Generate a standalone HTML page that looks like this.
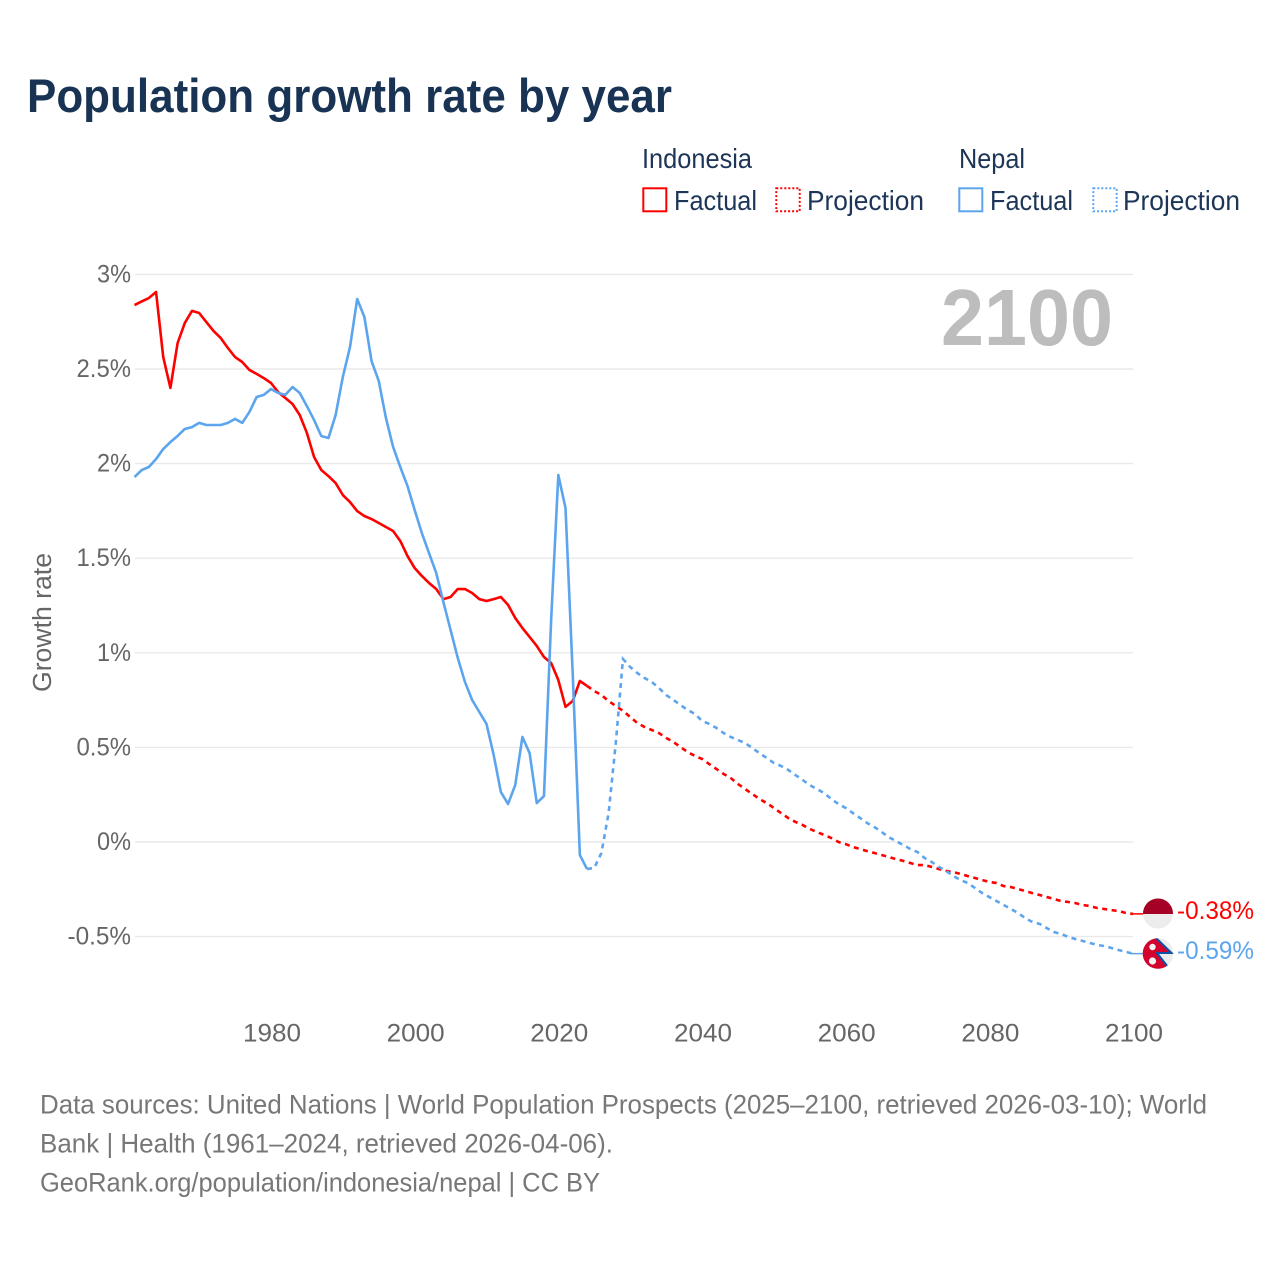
<!DOCTYPE html>
<html lang="en">
<head>
<meta charset="utf-8">
<title>Population growth rate by year</title>
<style>
html,body{margin:0;padding:0;background:#fff;}
svg{display:block;font-family:"Liberation Sans",sans-serif;}
</style>
</head>
<body>
<svg id="chart" xmlns="http://www.w3.org/2000/svg" width="1280" height="1280" viewBox="0 0 1280 1280">
  <rect x="0" y="0" width="1280" height="1280" fill="#ffffff"/>
  <text x="27" y="112" font-size="47" font-weight="700" fill="#183353" textLength="645" lengthAdjust="spacingAndGlyphs">Population growth rate by year</text>

  <g font-size="27.5" fill="#1d3557">
    <text x="642" y="168" textLength="110" lengthAdjust="spacingAndGlyphs">Indonesia</text>
    <text x="959" y="168" textLength="66" lengthAdjust="spacingAndGlyphs">Nepal</text>
    <rect x="643.3" y="188.3" width="23" height="23" fill="none" stroke="#ff0000" stroke-width="2"/>
    <text x="674" y="210" textLength="83" lengthAdjust="spacingAndGlyphs">Factual</text>
    <rect x="776.3" y="188.3" width="23.4" height="23" fill="none" stroke="#ff0000" stroke-width="2" stroke-dasharray="2 2"/>
    <text x="807" y="210" textLength="117" lengthAdjust="spacingAndGlyphs">Projection</text>
    <rect x="959.3" y="188.3" width="23" height="23" fill="none" stroke="#5ca5ee" stroke-width="2"/>
    <text x="990" y="210" textLength="83" lengthAdjust="spacingAndGlyphs">Factual</text>
    <rect x="1093.3" y="188.3" width="23.4" height="23" fill="none" stroke="#5ca5ee" stroke-width="2" stroke-dasharray="2 2"/>
    <text x="1123" y="210" textLength="117" lengthAdjust="spacingAndGlyphs">Projection</text>
  </g>

  <g id="grid"></g>
  <g id="y-labels" font-size="25" fill="#666666" text-anchor="end"></g>
  <g id="x-labels" font-size="25" fill="#666666" text-anchor="middle"></g>
  <text transform="translate(51,692) rotate(-90)" font-size="25.5" fill="#666666" textLength="139" lengthAdjust="spacingAndGlyphs">Growth rate</text>
  <text x="941" y="345" font-size="80" font-weight="700" fill="#bdbdbd" textLength="172" lengthAdjust="spacingAndGlyphs">2100</text>

  <g id="series"></g>

  <g>
    <clipPath id="clip-id"><circle cx="1158" cy="913.5" r="15"/></clipPath>
    <g clip-path="url(#clip-id)">
      <rect x="1143" y="898" width="30" height="16" fill="#a50026"/>
      <rect x="1143" y="914" width="30" height="16" fill="#ececec"/>
    </g>
  </g>
  <g>
    <clipPath id="clip-np"><circle cx="1158" cy="953.5" r="15.3"/></clipPath>
    <g clip-path="url(#clip-np)">
      <rect x="1142" y="938" width="32" height="32" fill="#ececec"/>
      <polygon points="1142,936 1155,936 1173,953.5 1157,953.5 1168,968 1168,970 1142,970" fill="#d4002d"/>
      <polyline points="1155,937 1171.5,953 1157,953 1168,967" fill="none" stroke="#0b52a8" stroke-width="2"/>
      <circle cx="1152.5" cy="947" r="3.2" fill="#f2f2f2"/>
      <circle cx="1152.5" cy="961" r="3.6" fill="#f2f2f2"/>
    </g>
  </g>
  <text x="1177" y="919" font-size="25" fill="#ff0000" textLength="77" lengthAdjust="spacingAndGlyphs">-0.38%</text>
  <text x="1177" y="959" font-size="25" fill="#5ca5ee" textLength="77" lengthAdjust="spacingAndGlyphs">-0.59%</text>

  <g font-size="26.5" fill="#777777">
    <text x="40" y="1113.4" textLength="1167" lengthAdjust="spacingAndGlyphs">Data sources: United Nations | World Population Prospects (2025–2100, retrieved 2026-03-10); World</text>
    <text x="40" y="1152.6" textLength="573" lengthAdjust="spacingAndGlyphs">Bank | Health (1961–2024, retrieved 2026-04-06).</text>
    <text x="40" y="1191.6" textLength="560" lengthAdjust="spacingAndGlyphs">GeoRank.org/population/indonesia/nepal | CC BY</text>
  </g>
</svg>
<script>
const yTicks = [3, 2.5, 2, 1.5, 1, 0.5, 0, -0.5];
const yTickLabels = ["3%", "2.5%", "2%", "1.5%", "1%", "0.5%", "0%", "-0.5%"];
const xTicks = [1980, 2000, 2020, 2040, 2060, 2080, 2100];
const xTickLabels = ["1980", "2000", "2020", "2040", "2060", "2080", "2100"];
const factualStartYear = 1961;
const projectionStartYear = 2024;

const indonesiaFactual = [
  2.838, 2.857, 2.875, 2.907, 2.563, 2.400, 2.637, 2.743, 2.807, 2.796,
  2.748, 2.701, 2.664, 2.611, 2.563, 2.537, 2.495, 2.474, 2.452, 2.426,
  2.378, 2.347, 2.315, 2.257, 2.162, 2.035, 1.966, 1.934, 1.897, 1.834,
  1.797, 1.749, 1.723, 1.707, 1.686, 1.665, 1.644, 1.591, 1.512, 1.448,
  1.406, 1.369, 1.337, 1.284, 1.295, 1.337, 1.337, 1.316, 1.284, 1.274,
  1.284, 1.295, 1.253, 1.184, 1.131, 1.084, 1.036, 0.978, 0.946, 0.856,
  0.714, 0.745, 0.851, 0.825
];
const nepalFactual = [
  1.929, 1.966, 1.982, 2.024, 2.077, 2.114, 2.146, 2.183, 2.193, 2.215,
  2.204, 2.204, 2.204, 2.215, 2.236, 2.215, 2.273, 2.352, 2.363, 2.394,
  2.373, 2.363, 2.405, 2.373, 2.304, 2.230, 2.146, 2.135, 2.257, 2.458,
  2.616, 2.870, 2.775, 2.542, 2.437, 2.241, 2.088, 1.982, 1.882, 1.755,
  1.633, 1.527, 1.422, 1.268, 1.121, 0.973, 0.846, 0.751, 0.687, 0.624,
  0.460, 0.264, 0.201, 0.301, 0.555, 0.470, 0.206, 0.243, 1.173, 1.940,
  1.765, 0.893, -0.069, -0.143
];
const indonesiaProjection = [
  0.825, 0.798, 0.777, 0.745, 0.719, 0.693,
  0.661, 0.629, 0.608, 0.592, 0.576, 0.550, 0.529, 0.502, 0.476, 0.455,
  0.439, 0.412, 0.386, 0.360, 0.338, 0.307, 0.280, 0.254, 0.227, 0.206,
  0.180, 0.153, 0.127, 0.106, 0.090, 0.069, 0.053, 0.037, 0.021, 0.000,
  -0.011, -0.026, -0.037, -0.048, -0.058, -0.069, -0.079, -0.090, -0.100, -0.111,
  -0.122, -0.122, -0.132, -0.143, -0.153, -0.159, -0.169, -0.180, -0.190, -0.201,
  -0.211, -0.217, -0.233, -0.238, -0.249, -0.259, -0.270, -0.280, -0.291, -0.301,
  -0.312, -0.317, -0.323, -0.333, -0.338, -0.349, -0.354, -0.360, -0.365, -0.375,
  -0.380
];
const nepalProjection = [
  -0.143, -0.137, -0.058, 0.153, 0.523, 0.967,
  0.925, 0.893, 0.867, 0.846, 0.814, 0.777, 0.751, 0.724, 0.698, 0.677,
  0.640, 0.624, 0.603, 0.576, 0.555, 0.539, 0.523, 0.497, 0.470, 0.444,
  0.418, 0.402, 0.381, 0.354, 0.328, 0.301, 0.280, 0.259, 0.227, 0.201,
  0.180, 0.153, 0.127, 0.100, 0.079, 0.053, 0.026, 0.005, -0.016, -0.037,
  -0.053, -0.085, -0.106, -0.132, -0.153, -0.180, -0.201, -0.217, -0.243, -0.270,
  -0.291, -0.312, -0.333, -0.354, -0.375, -0.402, -0.423, -0.433, -0.455, -0.476,
  -0.486, -0.502, -0.513, -0.523, -0.534, -0.544, -0.550, -0.560, -0.571, -0.581,
  -0.590
];

const NS = "http://www.w3.org/2000/svg";
function xScale(year) { return 134.5 + (year - 1961) * (1133 - 134.5) / 139; }
function yScale(value) { return 842 - value * 189.2; }
function labelWidth(label) {
  let w = 0;
  for (const ch of label) {
    if (ch === "%") w += 19.5;
    else if (ch === ".") w += 6;
    else if (ch === "-") w += 9;
    else w += 14.5;
  }
  return w;
}

const gridGroup = document.getElementById("grid");
const yLabelGroup = document.getElementById("y-labels");
yTicks.forEach(function (tick, i) {
  const line = document.createElementNS(NS, "line");
  
  
  line.setAttribute("x1", 135);
  line.setAttribute("x2", 1133);
  line.setAttribute("y1", yScale(tick));
  line.setAttribute("y2", yScale(tick));
  line.setAttribute("stroke", "#e9e9e9");
  line.setAttribute("stroke-width", "1.4");
  gridGroup.appendChild(line);

  const label = document.createElementNS(NS, "text");
  
  
  label.setAttribute("x", 131);
  label.setAttribute("y", yScale(tick) + 8);
  label.setAttribute("textLength", labelWidth(yTickLabels[i]));
  label.setAttribute("lengthAdjust", "spacingAndGlyphs");
  label.textContent = yTickLabels[i];
  yLabelGroup.appendChild(label);
});

const xLabelGroup = document.getElementById("x-labels");
xTicks.forEach(function (tick, i) {
  const label = document.createElementNS(NS, "text");
  
  
  label.setAttribute("x", xScale(tick) + 1);
  label.setAttribute("y", 1041.5);
  label.setAttribute("textLength", labelWidth(xTickLabels[i]));
  label.setAttribute("lengthAdjust", "spacingAndGlyphs");
  label.textContent = xTickLabels[i];
  xLabelGroup.appendChild(label);
});

function buildPath(values, startYear) {
  return values.map(function (v, i) {
    return (i ? "L" : "M") + xScale(startYear + i).toFixed(2) + " " + yScale(v).toFixed(2);
  }).join(" ");
}

const seriesGroup = document.getElementById("series");

const indonesiaProjectionLine = document.createElementNS(NS, "path");


indonesiaProjectionLine.setAttribute("d", buildPath(indonesiaProjection, projectionStartYear));
indonesiaProjectionLine.setAttribute("fill", "none");
indonesiaProjectionLine.setAttribute("stroke", "#ff0000");
indonesiaProjectionLine.setAttribute("stroke-width", "2.6");
indonesiaProjectionLine.setAttribute("stroke-dasharray", "5 4.5");
seriesGroup.appendChild(indonesiaProjectionLine);

const nepalProjectionLine = document.createElementNS(NS, "path");


nepalProjectionLine.setAttribute("d", buildPath(nepalProjection, projectionStartYear));
nepalProjectionLine.setAttribute("fill", "none");
nepalProjectionLine.setAttribute("stroke", "#5ca5ee");
nepalProjectionLine.setAttribute("stroke-width", "2.6");
nepalProjectionLine.setAttribute("stroke-dasharray", "5 4.5");
seriesGroup.appendChild(nepalProjectionLine);

const indonesiaFactualLine = document.createElementNS(NS, "path");


indonesiaFactualLine.setAttribute("d", buildPath(indonesiaFactual, factualStartYear));
indonesiaFactualLine.setAttribute("fill", "none");
indonesiaFactualLine.setAttribute("stroke", "#ff0000");
indonesiaFactualLine.setAttribute("stroke-width", "2.6");
indonesiaFactualLine.setAttribute("stroke-linejoin", "round");
seriesGroup.appendChild(indonesiaFactualLine);

const nepalFactualLine = document.createElementNS(NS, "path");


nepalFactualLine.setAttribute("d", buildPath(nepalFactual, factualStartYear));
nepalFactualLine.setAttribute("fill", "none");
nepalFactualLine.setAttribute("stroke", "#5ca5ee");
nepalFactualLine.setAttribute("stroke-width", "2.6");
nepalFactualLine.setAttribute("stroke-linejoin", "round");
seriesGroup.appendChild(nepalFactualLine);

const indonesiaConnector = document.createElementNS(NS, "line");


indonesiaConnector.setAttribute("x1", xScale(2100) - 2);
indonesiaConnector.setAttribute("x2", xScale(2100) + 10);
indonesiaConnector.setAttribute("y1", yScale(indonesiaProjection[indonesiaProjection.length - 1]));
indonesiaConnector.setAttribute("y2", yScale(indonesiaProjection[indonesiaProjection.length - 1]));
indonesiaConnector.setAttribute("stroke", "#ff0000");
indonesiaConnector.setAttribute("stroke-width", "1.5");
seriesGroup.appendChild(indonesiaConnector);

const nepalConnector = document.createElementNS(NS, "line");


nepalConnector.setAttribute("x1", xScale(2100) - 2);
nepalConnector.setAttribute("x2", xScale(2100) + 10);
nepalConnector.setAttribute("y1", yScale(nepalProjection[nepalProjection.length - 1]));
nepalConnector.setAttribute("y2", yScale(nepalProjection[nepalProjection.length - 1]));
nepalConnector.setAttribute("stroke", "#5ca5ee");
nepalConnector.setAttribute("stroke-width", "1.5");
seriesGroup.appendChild(nepalConnector);
</script>
</body>
</html>
